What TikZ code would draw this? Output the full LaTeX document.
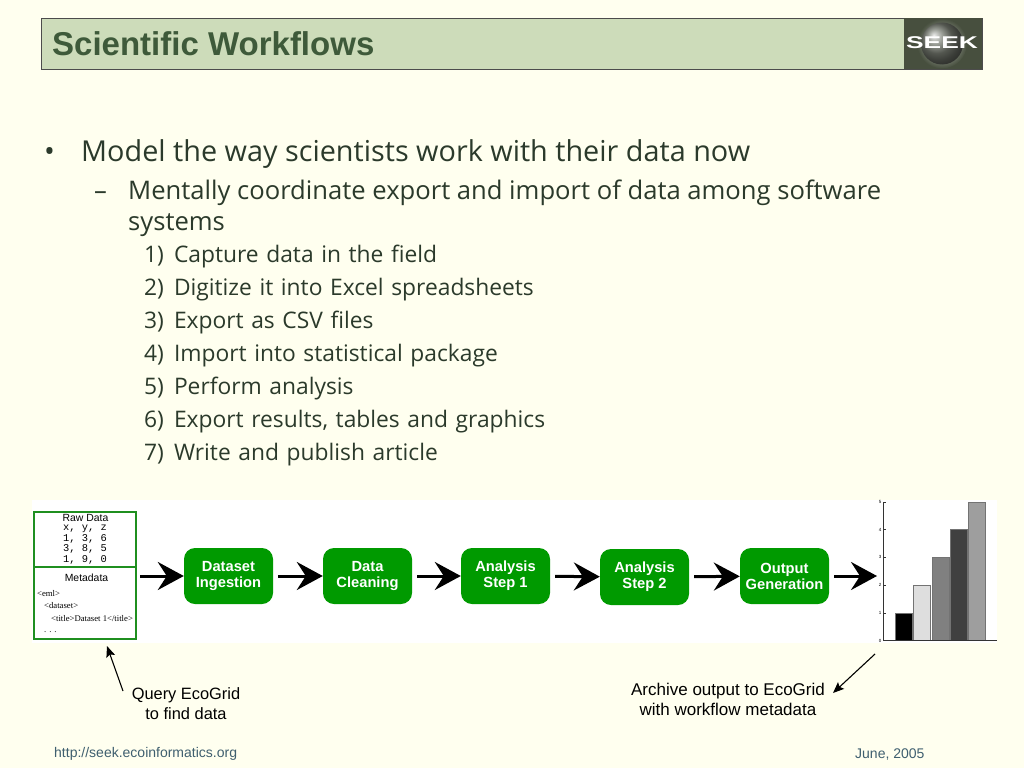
\documentclass[tikz,border=0pt]{standalone}
\usepackage{fontspec}
\setmainfont{Liberation Sans}
\newfontfamily\bodyfont{Open Sans}
\newfontfamily\xmlfont{Liberation Serif}
\newfontfamily\rawfont{Liberation Mono}
\usetikzlibrary{arrows.meta,shapes,backgrounds}
\definecolor{pagecol}{HTML}{FFFFEF}
\definecolor{barcol}{HTML}{CDDCBA}
\definecolor{titlecol}{HTML}{3E5A3A}
\definecolor{logocol}{HTML}{474F3E}
\definecolor{stepcol}{HTML}{009A00}
\definecolor{boxcol}{HTML}{1F8F1F}
\definecolor{footcol}{HTML}{3F5F6F}
\definecolor{bodycol}{HTML}{2B3A2B}
\newcommand{\numitem}[2]{\makebox[30pt][l]{#1}#2}

\begin{document}
\begin{tikzpicture}[x=1pt,y=-1pt,node distance=139pt,>=Stealth]

    \tikzstyle{topitem}=[anchor=base west,inner sep=0pt,text=bodycol,font=\bodyfont\fontsize{28.8}{30}\selectfont]
    \tikzstyle{subitem}=[anchor=base west,inner sep=0pt,text=bodycol,font=\bodyfont\fontsize{25.6}{28}\selectfont]
    \tikzstyle{numitem}=[inner sep=0pt,text width=500pt,text height=16pt,text depth=5pt,align=left,text=bodycol,font=\bodyfont\fontsize{22.8}{24}\selectfont]
    \tikzstyle{stepbox}=[rectangle,rounded corners=11pt,fill=stepcol,text=white,minimum width=89pt,minimum height=56pt,inner sep=0pt,align=center,font=\bfseries\fontsize{14.7}{16}\selectfont]
    \tikzstyle{databox}=[rectangle,draw=boxcol,line width=2pt,minimum width=102pt,inner sep=0pt]
    \tikzstyle{rawline}=[inner sep=0pt,font=\rawfont\fontsize{10.4}{10}\selectfont]
    \tikzstyle{xmlline}=[anchor=west,inner sep=0pt,font=\xmlfont\fontsize{8.7}{8}\selectfont]
    \tikzstyle{flow}=[-{Stealth[length=26pt,width=28pt,inset=9pt]},line width=3pt,black]
    \tikzstyle{note}=[-{Stealth[length=11pt,width=9pt,inset=2pt]},line width=1.1pt,black]
    \tikzstyle{caption}=[inner sep=0pt,align=center,font=\fontsize{16.4}{20}\selectfont]
    \tikzstyle{foot}=[inner sep=0pt,anchor=base west,text=footcol,font=\fontsize{14}{15}\selectfont]

    % page and header
    \fill[pagecol] (0,0) rectangle (1024,768);
    \node [rectangle,draw=black!70,fill=barcol,minimum width=941pt,minimum height=51pt,inner sep=0pt] (bar) at (511.5,43.5) {};
    \node [anchor=west,inner sep=0pt,text=titlecol,font=\bfseries\fontsize{33}{36}\selectfont] (title) at (52,44) {Scientific Workflows};
    \node [rectangle,fill=logocol,minimum width=78pt,minimum height=51pt,inner sep=0pt] (logo) at (943,43.5) {};
    \shade[inner color=white!75!logocol,outer color=logocol] (942,43.5) circle (25);
    \shade[ball color=black!15!logocol!70!white] (942,43.5) circle (21);
    \node [inner sep=0pt,text=white,font=\bfseries\fontsize{17}{18}\selectfont] (seek) at (942,43) {\scalebox{1.55}[1]{SEEK}};

    % text
    \node [topitem] (dot) at (44,161) {\textbullet};
    \node [topitem] (model) at (81,161) {Model the way scientists work with their data now};
    \node [subitem] (dash) at (94,199) {–};
    \node [subitem] (mental) at (128,199) {Mentally coordinate export and import of data among software};
    \node [subitem] (systems) at (128,230) {systems};
    \node [numitem] (s1) at (394,257) {\numitem{1)}{Capture data in the field}};
    \begin{scope}[node distance=33pt]
        \node [numitem] (s2) [below of=s1] {\numitem{2)}{Digitize it into Excel spreadsheets}};
        \node [numitem] (s3) [below of=s2] {\numitem{3)}{Export as CSV files}};
        \node [numitem] (s4) [below of=s3] {\numitem{4)}{Import into statistical package}};
        \node [numitem] (s5) [below of=s4] {\numitem{5)}{Perform analysis}};
        \node [numitem] (s6) [below of=s5] {\numitem{6)}{Export results, tables and graphics}};
        \node [numitem] (s7) [below of=s6] {\numitem{7)}{Write and publish article}};
    \end{scope}

    % workflow
    \fill[white] (32,500) rectangle (997,643);
    \node [databox,minimum height=55pt] (raw) at (85,539.5) {};
    \node [databox,minimum height=72pt] (meta) at (85,603) {};
    \node [inner sep=0pt,font=\fontsize{10.4}{10}\selectfont] (rawtitle) at (85.5,517.5) {Raw Data};
    \node [rawline] (r0) at (85,528.5) {x, y, z};
    \node [rawline] (r1) at (85,538.5) {1, 3, 6};
    \node [rawline] (r2) at (85,549) {3, 8, 5};
    \node [rawline] (r3) at (85,560) {1, 9, 0};
    \node [inner sep=0pt,font=\fontsize{10.4}{10}\selectfont] (metatitle) at (86.5,578) {Metadata};
    \node [xmlline] (x0) at (37,594) {<eml>};
    \node [xmlline] (x1) at (44,606) {<dataset>};
    \node [xmlline] (x2) at (51,618.5) {<title>Dataset 1</title>};
    \node [xmlline] (x3) at (44,632) {. . .};

    \node [stepbox] (ingest) at (228.5,576) {Dataset\\Ingestion};
    \node [stepbox] (clean) [right of=ingest] {Data\\Cleaning};
    \node [stepbox] (step1) [right of=clean,xshift=-1pt] {Analysis\\Step 1};
    \node [stepbox] (step2) [right of=step1,yshift=-1pt] {Analysis\\Step 2};
    \node [stepbox] (output) [right of=step2,xshift=1pt,yshift=1pt] {Output\\Generation};
    \coordinate (chartin) at (877,576);
    \coordinate (boxout) at (136,576);

    \draw[flow,shorten <=4pt] (boxout) -- (ingest);
    \draw[flow,shorten <=5pt] (ingest) -- (clean);
    \draw[flow,shorten <=5pt] (clean) -- (step1);
    \draw[flow,shorten <=5pt] (step1) -- (step2);
    \draw[flow,shorten <=5pt] (step2) -- (output);
    \draw[flow,shorten <=5pt] (output) -- (chartin);

    % chart
    \foreach \x/\h/\g in {895/1/black,913.5/2/black!13,932/3/black!50,950/4/black!75,968.5/5/black!38}
        \draw[black!55,line width=0.6pt,fill=\g] (\x,640.5) rectangle (\x+17,640.5-27.7*\h);
    \draw[black!80,line width=0.8pt] (883,502) -- (883,640.5) -- (997,640.5);
    \foreach \t in {0,...,5}{
        \draw[black!80,line width=0.6pt] (883,640.5-27.7*\t) -- (886,640.5-27.7*\t);
        \node [inner sep=0pt,font=\fontsize{4.5}{5}\selectfont] (tick\t) at (880,640.5-27.7*\t) {\t};
    }

    % notes
    \node [caption] (query) at (186,704) {Query EcoGrid\\to find data};
    \node [caption,font=\fontsize{17}{20}\selectfont] (archive) at (728,699) {Archive output to EcoGrid\\with workflow metadata};
    \coordinate (querytail) at (123,691);
    \coordinate (queryhead) at (107,646);
    \coordinate (archivetail) at (875,654);
    \coordinate (archivehead) at (833,693);
    \draw[note] (querytail) -- (queryhead);
    \draw[note] (archivetail) -- (archivehead);

    % footer
    \node [foot] (url) at (54,757) {http://seek.ecoinformatics.org};
    \node [foot] (date) at (855,758) {June, 2005};
\end{tikzpicture}
\end{document}
